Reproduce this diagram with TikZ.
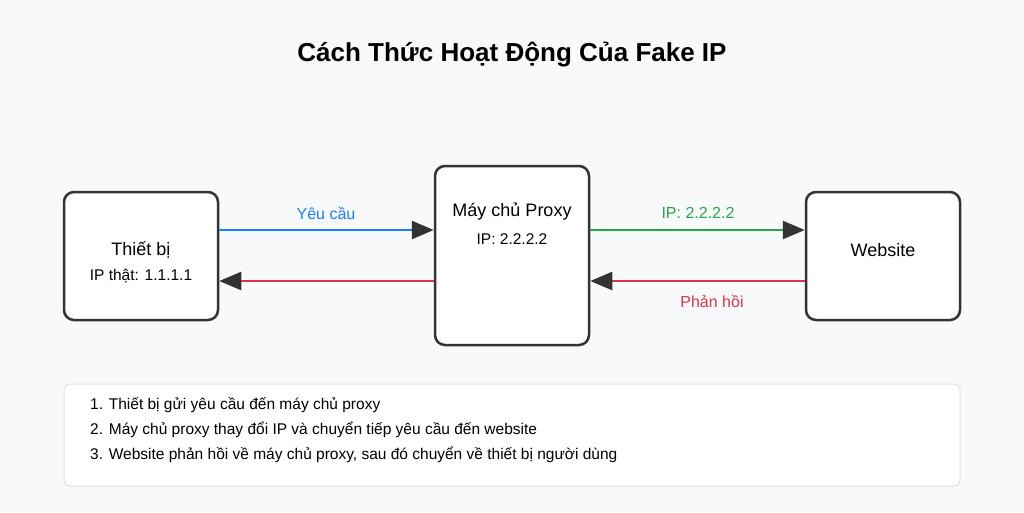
\documentclass[tikz,border=0pt]{standalone}
\usepackage{fontspec}
\setmainfont{Liberation Sans}
\usetikzlibrary{arrows.meta}
\definecolor{bg}{HTML}{F8F9FA}
\definecolor{bord}{HTML}{333333}
\definecolor{cblue}{HTML}{1A7FFF}
\definecolor{cgreen}{HTML}{28A745}
\definecolor{cred}{HTML}{DC3545}
\definecolor{lgray}{HTML}{DEE2E6}
\tikzset{
  boxstyle/.style={draw=bord, line width=2.5pt, fill=white, rounded corners=10pt, inner sep=0pt},
  conn/.style={line width=2.5pt, -{Triangle[length=22pt,width=18pt,color=bord]}},
  lbl/.style={font=\fontsize{15.5}{18}\selectfont},
  big/.style={font=\fontsize{18}{21}\selectfont},
}
\begin{document}
\begin{tikzpicture}[x=1pt,y=-1pt]
\fill[bg] (0,0) rectangle (1024,512);
\useasboundingbox (0,0) rectangle (1024,512);
\node[font=\fontsize{26}{30}\selectfont\bfseries] (title) at (512,55) {Cách Thức Hoạt Động Của Fake IP};
% boxes
\node[boxstyle, minimum width=154pt, minimum height=128pt] (dev) at (141,256) {};
\node[boxstyle, minimum width=154pt, minimum height=179pt] (proxy) at (512,255.5) {};
\node[boxstyle, minimum width=154pt, minimum height=128pt] (web) at (883,256) {};
\node[big] (devt) at (141,250) {Thiết bị};
\node[lbl] (devip) at (141,276) {IP thật: 1.1.1.1};
\node[big] (proxyt) at (512,212) {Máy chủ Proxy};
\node[lbl] (proxyip) at (512,239) {IP: 2.2.2.2};
\node[big] (webt) at (883,250) {Website};
% connectors
\draw[conn, cblue] (dev.east |- 0,230) coordinate (a1) -- (proxy.west |- 0,230) coordinate (a2);
\draw[conn, cred] (proxy.west |- 0,281) coordinate (b1) -- (dev.east |- 0,281) coordinate (b2);
\draw[conn, cgreen] (proxy.east |- 0,230) coordinate (c1) -- (web.west |- 0,230) coordinate (c2);
\draw[conn, cred] (web.west |- 0,281) coordinate (d1) -- (proxy.east |- 0,281) coordinate (d2);
\node[lbl, font=\fontsize{16}{18}\selectfont, text=cblue] (l1) at (326,213) {Yêu cầu};
\node[lbl, font=\fontsize{16}{18}\selectfont, text=cgreen] (l2) at (698,213) {IP: 2.2.2.2};
\node[lbl, font=\fontsize{16}{18}\selectfont, text=cred] (l3) at (712,301) {Phản hồi};
% notes
\node[draw=lgray, line width=1pt, fill=white, rounded corners=6pt, minimum width=896pt, minimum height=102pt, inner sep=0pt] (notes) at (512,435) {};
\node[lbl, anchor=west, inner sep=0pt] (n1) at (90,405) {1. Thiết bị gửi yêu cầu đến máy chủ proxy};
\node[lbl, anchor=west, inner sep=0pt] (n2) at (90,430) {2. Máy chủ proxy thay đổi IP và chuyển tiếp yêu cầu đến website};
\node[lbl, anchor=west, inner sep=0pt] (n3) at (90,455) {3. Website phản hồi về máy chủ proxy, sau đó chuyển về thiết bị người dùng};
\end{tikzpicture}
\end{document}
